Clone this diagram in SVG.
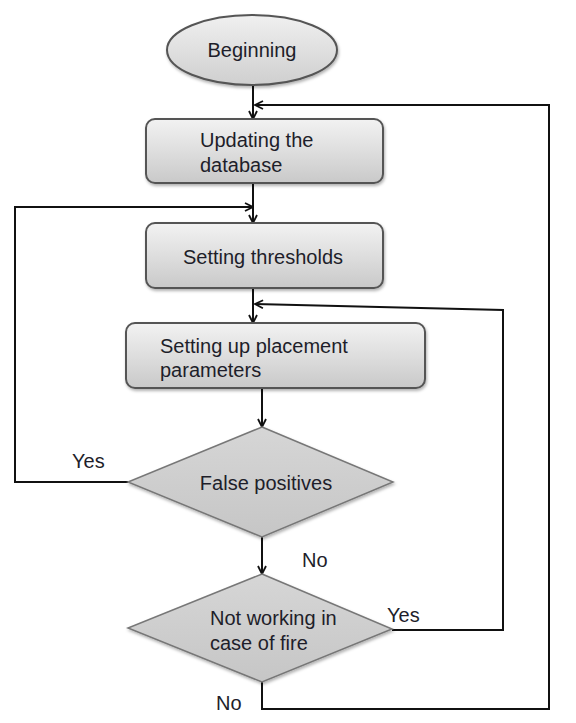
<svg xmlns="http://www.w3.org/2000/svg" width="576" height="723" viewBox="0 0 576 723">
<defs>
<linearGradient id="boxg" x1="0" y1="0" x2="0" y2="1">
<stop offset="0" stop-color="#f2f2f2"/>
<stop offset="0.5" stop-color="#dedede"/>
<stop offset="1" stop-color="#c9c9c9"/>
</linearGradient>
<linearGradient id="elg" x1="0" y1="0" x2="0" y2="1">
<stop offset="0" stop-color="#f0f0f0"/>
<stop offset="1" stop-color="#cfcfcf"/>
</linearGradient>
<linearGradient id="dmg" x1="0" y1="0" x2="0" y2="1">
<stop offset="0" stop-color="#d6d6d6"/>
<stop offset="1" stop-color="#c6c6c6"/>
</linearGradient>
<filter id="sh" x="-10%" y="-10%" width="125%" height="130%">
<feDropShadow dx="1" dy="2" stdDeviation="1.5" flood-color="#000" flood-opacity="0.3"/>
</filter>
<marker id="arr" viewBox="0 0 10 10" refX="9" refY="5" markerWidth="10" markerHeight="10" markerUnits="userSpaceOnUse" orient="auto">
<path d="M1,1 L9,5 L1,9" fill="none" stroke="#111" stroke-width="1.8"/>
</marker>
</defs>
<style>
.t{font-family:"Liberation Sans",Arial,sans-serif;font-size:20px;fill:#1e1e2a}
.box{fill:url(#boxg);stroke:#555;stroke-width:2;filter:url(#sh)}
.dia{fill:url(#dmg);stroke:#777;stroke-width:1.5;filter:url(#sh)}
.ln{fill:none;stroke:#111;stroke-width:2}
.ar{fill:none;stroke:#111;stroke-width:2;marker-end:url(#arr)}
</style>
<rect width="576" height="723" fill="#fff"/>
<g id="connectors">
<line class="ar" x1="253" y1="85" x2="253" y2="119"/>
<line class="ar" x1="253" y1="183" x2="253" y2="223"/>
<line class="ar" x1="253" y1="288" x2="253" y2="323"/>
<line class="ar" x1="262" y1="388" x2="262" y2="427"/>
<line class="ar" x1="262" y1="537" x2="262" y2="574"/>
<polyline class="ar" points="128,482 15,482 15,207 253,207"/>
<polyline class="ar" points="392,630 503,630 503,310 255,304"/>
<polyline class="ar" points="262,682 262,709 549,709 549,105 255,105"/>
</g>
<g id="beginning">
<ellipse cx="252" cy="50" rx="85" ry="35" fill="url(#elg)" stroke="#555" stroke-width="2" filter="url(#sh)"/>
<text class="t" x="252" y="57" text-anchor="middle">Beginning</text>
</g>
<g id="updating">
<rect class="box" x="146" y="119" width="237" height="64" rx="9"/>
<text class="t" x="200" y="147">Updating the</text>
<text class="t" x="200" y="172">database</text>
</g>
<g id="thresholds">
<rect class="box" x="146" y="223" width="237" height="65" rx="9"/>
<text class="t" x="263" y="264" text-anchor="middle">Setting thresholds</text>
</g>
<g id="placement">
<rect class="box" x="126" y="323" width="299" height="65" rx="9"/>
<text class="t" x="160" y="353">Setting up placement</text>
<text class="t" x="160" y="377">parameters</text>
</g>
<g id="falsepositives">
<polygon class="dia" points="262,427 393,482 262,537 128,482"/>
<text class="t" x="266" y="490" text-anchor="middle">False positives</text>
</g>
<g id="notworking">
<polygon class="dia" points="262,574 392,629 262,682 128,628"/>
<text class="t" x="210" y="625">Not working in</text>
<text class="t" x="210" y="650">case of fire</text>
</g>
<g id="labels">
<text class="t" x="72" y="468">Yes</text>
<text class="t" x="302" y="567">No</text>
<text class="t" x="387" y="622">Yes</text>
<text class="t" x="216" y="710">No</text>
</g>
</svg>
